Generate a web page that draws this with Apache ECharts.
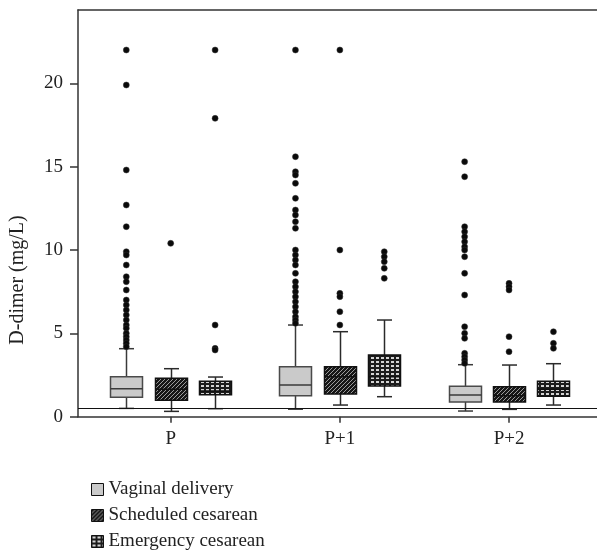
<!DOCTYPE html>
<html>
<head>
<meta charset="utf-8">
<script src="https://cdn.jsdelivr.net/npm/echarts@6/dist/echarts.min.js"></script>
<style>html,body{margin:0;padding:0;background:#fff;}#c{width:597px;height:558px;}</style>
</head>
<body>
<div id="c"></div>
<script>
// ---- data ----
const categories = ['P', 'P+1', 'P+2'];
const seriesNames = ['Vaginal delivery', 'Scheduled cesarean', 'Emergency cesarean'];
const yTicks = [0, 5, 10, 15, 20];
const refLine = 0.5;
// box stats per category: [min, q1, median, q3, max]
const vaginalBox = [[0.5, 1.16, 1.68, 2.4, 4.08], [0.45, 1.26, 1.9, 3.0, 5.5], [0.34, 0.88, 1.3, 1.82, 3.12]];
const scheduledBox = [[0.32, 0.98, 1.64, 2.3, 2.88], [0.7, 1.36, 2.4, 3.0, 5.1], [0.44, 0.88, 1.25, 1.8, 3.1]];
const emergencyBox = [[0.48, 1.32, 1.54, 2.12, 2.38], [1.2, 1.84, 2.4, 3.7, 5.8], [0.7, 1.22, 1.64, 2.12, 3.18]];
// outliers per category
const vaginalOut = [
  [22, 19.9, 14.8, 12.7, 11.4, 9.9, 9.7, 9.1, 8.4, 8.1, 7.6, 7.0, 6.7, 6.4, 6.1, 5.8, 5.5, 5.3, 5.0, 4.8, 4.6, 4.4, 4.2],
  [22, 15.6, 14.7, 14.5, 14.0, 13.1, 12.4, 12.1, 11.7, 11.3, 10.0, 9.7, 9.4, 9.1, 8.6, 8.1, 7.8, 7.5, 7.2, 6.9, 6.6, 6.3, 6.0, 5.8, 5.6],
  [15.3, 14.4, 11.4, 11.1, 10.8, 10.5, 10.2, 10.0, 9.6, 8.6, 7.3, 5.4, 5.0, 4.7, 3.8, 3.6, 3.4, 3.2]
];
const scheduledOut = [[10.4], [22, 10.0, 7.4, 7.2, 6.3, 5.5], [8.0, 7.8, 7.6, 4.8, 3.9]];
const emergencyOut = [[22, 17.9, 5.5, 4.1, 4.0], [9.9, 9.6, 9.3, 8.9, 8.3], [5.1, 4.4, 4.1]];

// ---- styles ----
const FONT = "'Liberation Serif', 'DejaVu Serif', serif";
const TXT = '#222';
const AX = '#333';
const XMIN = -0.548, XMAX = 2.52, YMAX = 24.4;
const OFF = 0.2625; // sub-group offset in axis units

function hatchPattern() {
  const c = document.createElement('canvas'); c.width = 4; c.height = 4;
  const g = c.getContext('2d');
  g.fillStyle = '#161616'; g.fillRect(0, 0, 4, 4);
  g.strokeStyle = '#9c9c9c'; g.lineWidth = 1;
  g.beginPath();
  g.moveTo(0, 4); g.lineTo(4, 0);
  g.moveTo(-1, 1); g.lineTo(1, -1);
  g.moveTo(3, 5); g.lineTo(5, 3);
  g.stroke();
  return { image: c, repeat: 'repeat' };
}
function gridPattern() {
  const c = document.createElement('canvas'); c.width = 5; c.height = 4;
  const g = c.getContext('2d');
  g.fillStyle = '#1c1c1c'; g.fillRect(0, 0, 5, 4);
  g.fillStyle = '#d4d4d4'; g.fillRect(1, 1, 3, 2);
  return { image: c, repeat: 'repeat' };
}
const styles = [
  { fill: '#cacaca', border: '#4a4a4a', whisker: '#3a3a3a', median: '#3a3a3a' },
  { fill: hatchPattern(), border: '#111', whisker: '#2a2a2a', median: '#111' },
  { fill: gridPattern(), border: '#111', whisker: '#2a2a2a', median: '#111' }
];
const offsets = [-OFF, 0, OFF];
const boxes = [vaginalBox, scheduledBox, emergencyBox];
const outs = [vaginalOut, scheduledOut, emergencyOut];

function makeRender(offset, st) {
  return function (params, api) {
    const gx = api.value(0) + offset;
    const pMin = api.coord([gx, api.value(1)]);
    const pQ1 = api.coord([gx, api.value(2)]);
    const pMed = api.coord([gx, api.value(3)]);
    const pQ3 = api.coord([gx, api.value(4)]);
    const pMax = api.coord([gx, api.value(5)]);
    const cx = Math.round(pMin[0]) + 0.5;
    const hw = 16, cw = 7.5;
    return {
      type: 'group',
      children: [
        { type: 'line', shape: { x1: cx, y1: pMin[1], x2: cx, y2: pMax[1] }, style: { stroke: st.whisker, lineWidth: 1.5 } },
        { type: 'line', shape: { x1: cx - cw, y1: pMin[1], x2: cx + cw, y2: pMin[1] }, style: { stroke: st.whisker, lineWidth: 1.5 } },
        { type: 'line', shape: { x1: cx - cw, y1: pMax[1], x2: cx + cw, y2: pMax[1] }, style: { stroke: st.whisker, lineWidth: 1.5 } },
        { type: 'rect', shape: { x: cx - hw, y: pQ3[1], width: hw * 2, height: pQ1[1] - pQ3[1] }, style: { fill: st.fill, stroke: st.border, lineWidth: 1.5 } },
        { type: 'line', shape: { x1: cx - hw, y1: pMed[1], x2: cx + hw, y2: pMed[1] }, style: { stroke: st.median, lineWidth: 1.5 } }
      ]
    };
  };
}

const series = [];
for (let s = 0; s < 3; s++) {
  series.push({
    name: seriesNames[s],
    type: 'custom',
    renderItem: makeRender(offsets[s], styles[s]),
    itemStyle: { color: styles[s].fill, borderColor: styles[s].border, borderWidth: 1 },
    encode: { x: 0, y: [1, 2, 3, 4, 5] },
    data: boxes[s].map((b, i) => [i].concat(b)),
    z: 2
  });
}
for (let s = 0; s < 3; s++) {
  const pts = [];
  outs[s].forEach((arr, i) => arr.forEach(v => pts.push([i + offsets[s], v])));
  const sc = {
    name: seriesNames[s] + ' outliers',
    type: 'scatter',
    symbol: 'circle',
    symbolSize: 6,
    itemStyle: { color: '#0a0a0a', borderColor: '#333', borderWidth: 0.5, opacity: 1 },
    data: pts,
    z: 3
  };
  if (s === 0) {
    sc.markLine = {
      silent: true, symbol: 'none', label: { show: false },
      lineStyle: { color: '#111', width: 1.2, type: 'solid' },
      data: [{ yAxis: refLine }]
    };
  }
  series.push(sc);
}

const chart = echarts.init(document.getElementById('c'), null, { renderer: 'canvas' });
chart.setOption({
  animation: false,
  backgroundColor: '#fff',
  textStyle: { fontFamily: FONT },
  grid: { left: 78, right: 0, top: 10, bottom: 141.3 },
  xAxis: [{
    type: 'value', min: XMIN, max: XMAX,
    axisLine: { show: true, onZero: false, lineStyle: { color: AX, width: 1.5 } },
    axisTick: { show: true, customValues: [0, 1, 2], length: 6, lineStyle: { color: AX, width: 1.5 } },
    axisLabel: { customValues: [0, 1, 2], formatter: v => categories[Math.round(v)], margin: 13, color: TXT, fontSize: 19, fontFamily: FONT },
    splitLine: { show: false }
  }, {
    type: 'value', position: 'top', min: XMIN, max: XMAX,
    axisLine: { show: true, onZero: false, lineStyle: { color: AX, width: 1.5 } },
    axisTick: { show: false }, axisLabel: { show: false }, splitLine: { show: false }
  }],
  yAxis: {
    type: 'value', min: 0, max: YMAX,
    axisLine: { show: true, onZero: false, lineStyle: { color: AX, width: 1.5 } },
    axisTick: { show: true, customValues: yTicks, length: 8, lineStyle: { color: AX, width: 1.5 } },
    axisLabel: { customValues: yTicks, margin: 15, color: TXT, fontSize: 19, fontFamily: FONT },
    splitLine: { show: false }
  },
  legend: {
    orient: 'vertical', left: 91, top: 480, height: 76, padding: 0,
    itemWidth: 12, itemHeight: 12, itemGap: 7,
    textStyle: { color: TXT, fontSize: 19, fontFamily: FONT },
    data: seriesNames.map((n, s) => ({ name: n, icon: 'rect', itemStyle: { color: styles[s].fill, borderColor: '#111', borderWidth: 1 } }))
  },
  graphic: [{
    type: 'text', x: 18, y: 280, rotation: Math.PI / 2,
    style: { text: 'D-dimer (mg/L)', fill: TXT, font: '20px ' + FONT, align: 'center', verticalAlign: 'middle' }
  }],
  series: series
});
</script>
</body>
</html>
